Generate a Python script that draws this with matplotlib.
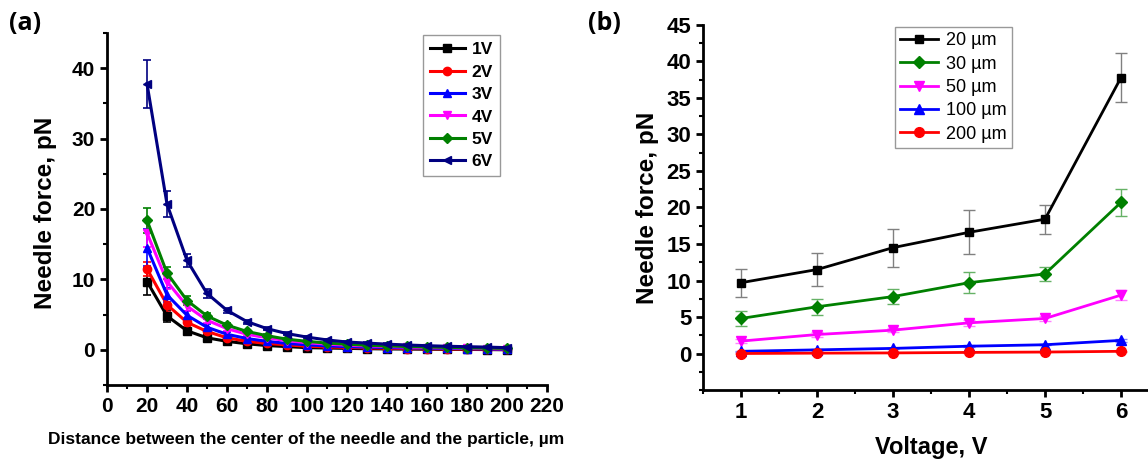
import numpy as np
import matplotlib
matplotlib.use('Agg')
import matplotlib.pyplot as plt
from matplotlib.ticker import MultipleLocator

plt.rcParams['font.family'] = ['Liberation Sans', 'DejaVu Sans']

# panel (a): force vs distance for each voltage
dist = [20, 30, 40, 50, 60, 70, 80, 90, 100, 110, 120, 130, 140, 150, 160, 170, 180, 190, 200]
volt_labels = ['1V', '2V', '3V', '4V', '5V', '6V']
f1 = [9.7, 4.8, 2.7, 1.7, 1.2, 0.85, 0.6, 0.45, 0.3, 0.25, 0.2, 0.15, 0.12, 0.1, 0.08, 0.06, 0.05, 0.03, 0.0]
f2 = [11.5, 6.4, 3.9, 2.6, 1.7, 1.2, 0.9, 0.7, 0.5, 0.4, 0.33, 0.27, 0.22, 0.18, 0.15, 0.12, 0.1, 0.08, 0.05]
f3 = [14.5, 7.8, 4.9, 3.2, 2.2, 1.6, 1.2, 0.9, 0.7, 0.55, 0.45, 0.38, 0.32, 0.27, 0.23, 0.2, 0.16, 0.12, 0.08]
f4 = [16.6, 9.7, 6.2, 4.2, 3.0, 2.2, 1.7, 1.3, 1.0, 0.8, 0.65, 0.55, 0.45, 0.38, 0.32, 0.27, 0.22, 0.18, 0.15]
f5 = [18.4, 10.9, 7.0, 4.8, 3.5, 2.6, 2.0, 1.5, 1.2, 0.95, 0.8, 0.65, 0.55, 0.47, 0.4, 0.34, 0.28, 0.24, 0.2]
f6 = [37.8, 20.7, 12.7, 8.0, 5.6, 4.0, 3.0, 2.3, 1.8, 1.4, 1.1, 0.95, 0.8, 0.68, 0.58, 0.5, 0.44, 0.38, 0.3]
e1 = [1.9, 0.9, 0.4, 0.3, 0.2, 0.15, 0.1, 0.1, 0.1, 0.1, 0.1, 0.1, 0.1, 0.1, 0.1, 0.1, 0.1, 0.1, 0.1]
e2 = [1.0, 1.0, 0.6, 0.4, 0.3, 0.2, 0.15, 0.1, 0.1, 0.1, 0.1, 0.1, 0.1, 0.1, 0.1, 0.1, 0.1, 0.1, 0.1]
e3 = [2.6, 1.0, 0.6, 0.4, 0.3, 0.2, 0.15, 0.1, 0.1, 0.1, 0.1, 0.1, 0.1, 0.1, 0.1, 0.1, 0.1, 0.1, 0.1]
e4 = [2.0, 1.0, 0.7, 0.4, 0.3, 0.25, 0.2, 0.15, 0.15, 0.1, 0.1, 0.1, 0.1, 0.1, 0.1, 0.1, 0.1, 0.1, 0.1]
e5 = [1.8, 0.8, 0.6, 0.4, 0.3, 0.25, 0.2, 0.15, 0.15, 0.1, 0.1, 0.1, 0.1, 0.1, 0.1, 0.1, 0.1, 0.1, 0.1]
e6 = [3.4, 1.8, 0.9, 0.6, 0.4, 0.3, 0.2, 0.2, 0.15, 0.1, 0.1, 0.1, 0.1, 0.1, 0.1, 0.1, 0.1, 0.1, 0.1]

# panel (b): force vs voltage for each distance
voltage = [1, 2, 3, 4, 5, 6]
dist_labels = ['20 µm', '30 µm', '50 µm', '100 µm', '200 µm']
d20 = [9.7, 11.5, 14.5, 16.6, 18.4, 37.8]
d30 = [4.8, 6.4, 7.8, 9.7, 10.9, 20.7]
d50 = [1.7, 2.6, 3.2, 4.2, 4.8, 8.0]
d100 = [0.3, 0.5, 0.7, 1.0, 1.2, 1.8]
d200 = [0.0, 0.05, 0.08, 0.15, 0.2, 0.3]
err20 = [1.9, 2.3, 2.6, 3.0, 2.0, 3.4]
err30 = [1.0, 1.1, 1.0, 1.4, 0.9, 1.8]
err50 = [0.3, 0.3, 0.3, 0.4, 0.4, 0.7]
err100 = [0.1, 0.1, 0.1, 0.1, 0.1, 0.2]
err200 = [0.05, 0.05, 0.05, 0.05, 0.05, 0.05]

fig = plt.figure(figsize=(11.48, 4.61), dpi=100)

# ---------- (a)
ax1 = fig.add_axes([0.0932, 0.1649, 0.3833, 0.7635])
cols_a = ['black', 'red', 'blue', 'magenta', 'green', '#000080']
marks_a = ['s', 'o', '^', 'v', 'D', '<']
lines_a = []
for y, e, c, m, lab in zip([f1, f2, f3, f4, f5, f6], [e1, e2, e3, e4, e5, e6],
                           cols_a, marks_a, volt_labels):
    eb = ax1.errorbar(dist, y, yerr=e, color=c, marker=m, ms=6 if m != 'D' else 5,
                      lw=2.2, elinewidth=1.2, capsize=3, capthick=1.2, label=lab)
    lines_a.append(eb[0])

ax1.set_xlim(0, 220)
ax1.set_ylim(-5, 45)
ax1.xaxis.set_major_locator(MultipleLocator(20))
ax1.xaxis.set_minor_locator(MultipleLocator(10))
ax1.set_yticks([0, 10, 20, 30, 40])
ax1.yaxis.set_minor_locator(MultipleLocator(5))
ax1.set_xlabel('Distance between the center of the needle and the particle, µm',
               fontsize=12.5, fontweight='bold')
ax1.set_ylabel('Needle force, pN', fontsize=17.5, fontweight='bold')
ax1.xaxis.set_label_coords(0.452, -0.135)
ax1.yaxis.set_label_coords(-0.114, 0.49)
leg1 = ax1.legend(lines_a, volt_labels, loc='upper left', bbox_to_anchor=(0.718, 0.994),
                  borderaxespad=0, frameon=True, fancybox=False, edgecolor='gray',
                  handlelength=2.0, labelspacing=0.42, borderpad=0.4, handletextpad=0.4,
                  prop={'weight': 'bold', 'size': 12.5})
leg1.get_frame().set_linewidth(1.0)

# ---------- (b)
ax2 = fig.add_axes([0.6124, 0.154, 0.3972, 0.7918])
series_b = [d20, d30, d50, d100, d200]
errs_b = [err20, err30, err50, err100, err200]
cols_b = ['black', 'green', 'magenta', 'blue', 'red']
ecols_b = ['gray', '#66b266', '#ff80ff', '#8080ff', '#ff8080']
marks_b = ['s', 'D', 'v', '^', 'o']
lines_b = []
for y, e, c, ec, m, lab in zip(series_b, errs_b, cols_b, ecols_b, marks_b, dist_labels):
    eb = ax2.errorbar(voltage, y, yerr=e, color=c, ecolor=ec, marker=m,
                      ms=7 if m in 'v^o' else 6, lw=2, elinewidth=1, capsize=4,
                      capthick=1, label=lab)
    lines_b.append(eb[0])

ax2.set_xlim(0.5, 6.5)
ax2.set_ylim(-5, 45)
ax2.xaxis.set_major_locator(MultipleLocator(1))
ax2.xaxis.set_minor_locator(MultipleLocator(0.5))
ax2.set_yticks(np.arange(0, 46, 5))
ax2.yaxis.set_minor_locator(MultipleLocator(2.5))
ax2.set_xlabel('Voltage, V', fontsize=17, fontweight='bold')
ax2.set_ylabel('Needle force, pN', fontsize=17.5, fontweight='bold')
ax2.xaxis.set_label_coords(0.5, -0.125)
ax2.yaxis.set_label_coords(-0.097, 0.5)
leg2 = ax2.legend(lines_b, dist_labels, loc='upper left', bbox_to_anchor=(0.421, 0.995),
                  borderaxespad=0, frameon=True, fancybox=False, edgecolor='gray',
                  handlelength=2.1, labelspacing=0.35, borderpad=0.3, handletextpad=0.4,
                  prop={'size': 13})
leg2.get_frame().set_linewidth(1.0)

for ax, fs in [(ax1, 15), (ax2, 16)]:
    for s in ['top', 'right']:
        ax.spines[s].set_visible(False)
    for s in ['left', 'bottom']:
        ax.spines[s].set_linewidth(2)
    ax.tick_params(which='major', direction='out', length=5, width=2, labelsize=fs)
    ax.tick_params(which='minor', direction='out', length=3, width=1.5)
    for t in ax.get_xticklabels() + ax.get_yticklabels():
        t.set_fontweight('bold')

fig.text(0.008, 0.935, '(a)', fontsize=18, fontweight='bold', family=['Open Sans', 'DejaVu Sans'])
fig.text(0.512, 0.935, '(b)', fontsize=18, fontweight='bold', family=['Open Sans', 'DejaVu Sans'])

fig.savefig('out.png', dpi=100)
